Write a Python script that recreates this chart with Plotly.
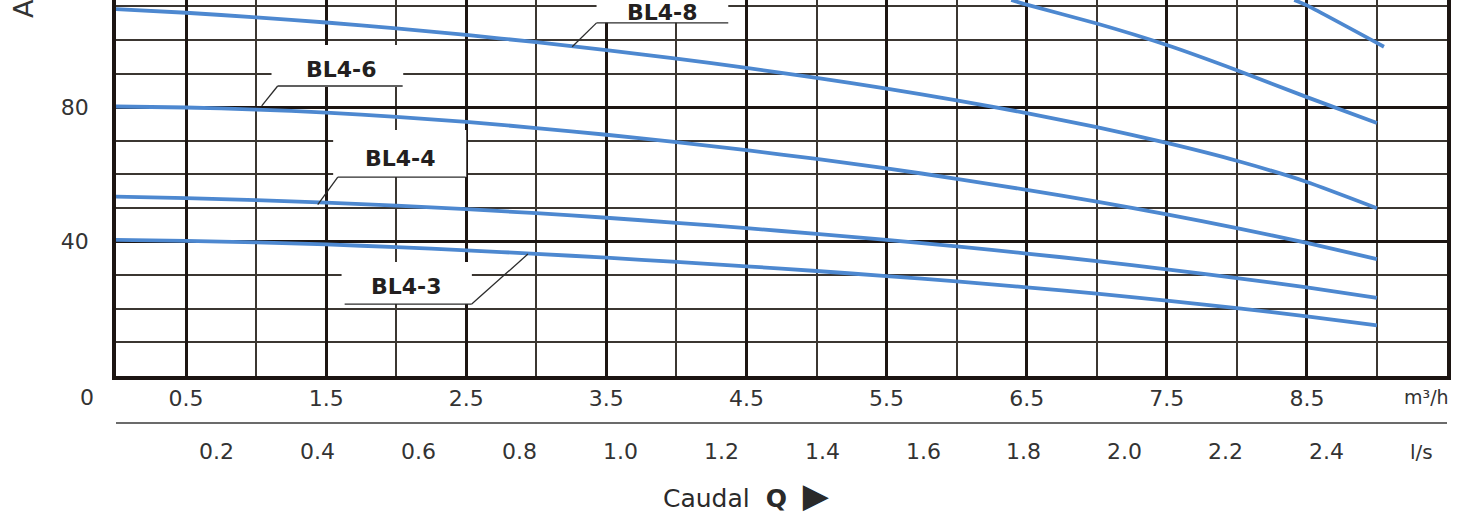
import plotly.graph_objects as go

# ---------------- data ----------------
q_m3h = [0.0, 0.5, 1.0, 1.5, 2.0, 2.5, 3.0, 3.5, 4.0, 4.5, 5.0, 5.5, 6.0, 6.5, 7.0, 7.5, 8.0, 8.5, 9.0]

h_bl4_3 = [40.5, 40.2, 39.75, 39.15, 38.35, 37.4, 36.35, 35.2, 33.95, 32.65, 31.25, 29.75, 28.15, 26.4, 24.5, 22.45, 20.2, 17.75, 15.05]
h_bl4_4 = [53.4, 52.95, 52.35, 51.6, 50.7, 49.65, 48.45, 47.1, 45.6, 44.0, 42.3, 40.5, 38.55, 36.45, 34.2, 31.75, 29.15, 26.35, 23.25]
h_bl4_6 = [80.2, 79.9, 79.3, 78.4, 77.1, 75.6, 73.8, 71.8, 69.6, 67.2, 64.6, 61.8, 58.7, 55.4, 51.9, 48.1, 44.0, 39.6, 34.8]
h_bl4_8 = [109.2, 108.1, 106.75, 105.2, 103.45, 101.5, 99.35, 97.0, 94.45, 91.7, 88.75, 85.55, 82.05, 78.25, 74.05, 69.35, 64.05, 57.75, 49.95]

# two upper curves whose labels lie outside the visible crop (only the visible part is read)
q_upper1 = [6.39, 6.5, 7.0, 7.5, 8.0, 8.5, 9.0]
h_upper1 = [111.9, 110.5, 104.9, 98.5, 91.0, 83.0, 75.3]
q_upper2 = [8.41, 8.5, 9.05]
h_upper2 = [111.9, 110.3, 98.0]

x_major_ticks = [0.5, 1.5, 2.5, 3.5, 4.5, 5.5, 6.5, 7.5, 8.5]
x_major_text = ["0.5", "1.5", "2.5", "3.5", "4.5", "5.5", "6.5", "7.5", "8.5"]
x_minor_ticks = [1, 2, 3, 4, 5, 6, 7, 8, 9]
y_major_ticks = [40, 80]
y_major_text = ["40", "80"]
y_minor_ticks = [10, 20, 30, 50, 60, 70, 90, 100, 110]
ls_ticks = [0.2, 0.4, 0.6, 0.8, 1.0, 1.2, 1.4, 1.6, 1.8, 2.0, 2.2, 2.4]
ls_text = ["0.2", "0.4", "0.6", "0.8", "1.0", "1.2", "1.4", "1.6", "1.8", "2.0", "2.2", "2.4"]
M3H_PER_LS = 3.6

# ---------------- style ----------------
CURVE = "#4d88d0"
THICK = "#1c1512"
THIN = "#3b3631"
TXT = "#333333"
FONT = "DejaVu Sans, Liberation Sans, Arial, sans-serif"
X_MAX = 9.5
Y_MAX = 111.9

fig = go.Figure()
series = [
    ("BL4-3", q_m3h, h_bl4_3),
    ("BL4-4", q_m3h, h_bl4_4),
    ("BL4-6", q_m3h, h_bl4_6),
    ("BL4-8", q_m3h, h_bl4_8),
    ("BL4-12", q_upper1, h_upper1),
    ("BL4-16", q_upper2, h_upper2),
]
for name, xs, ys in series:
    fig.add_trace(go.Scatter(x=xs, y=ys, name=name, mode="lines",
                             line=dict(color=CURVE, width=3.8, shape="spline", smoothing=0.5),
                             showlegend=False, hoverinfo="x+y+name"))

fig.update_xaxes(range=[0, X_MAX], tickvals=x_major_ticks, ticktext=x_major_text,
                 showgrid=True, gridcolor=THICK, gridwidth=3, zeroline=False,
                 showline=True, linecolor=THICK, linewidth=3.5, mirror=False,
                 ticks="", ticklabelstandoff=0,
                 tickfont=dict(family=FONT, size=22, color=TXT),
                 minor=dict(tickvals=x_minor_ticks, showgrid=True, gridcolor=THIN, gridwidth=1.6, ticks=""))
fig.update_yaxes(range=[0, Y_MAX], tickvals=y_major_ticks, ticktext=y_major_text,
                 showgrid=True, gridcolor=THICK, gridwidth=3, zeroline=False,
                 showline=True, linecolor=THICK, linewidth=3.5, mirror=True,
                 ticks="", ticklabelstandoff=19,
                 tickfont=dict(family=FONT, size=22, color=TXT),
                 minor=dict(tickvals=y_minor_ticks, showgrid=True, gridcolor=THIN, gridwidth=1.6, ticks=""))

shapes = []
annotations = []

# curve labels: white box, text, underline, leader line to the curve
labels = [
    # text, box(q0,q1,h0,h1), text(q,h), underline(q0,q1,h), leader end (q,h), leader start side
    ("BL4-6", (1.11, 2.05, 86.0, 98.5), (1.61, 91.1), (1.154, 2.046, 86.3), (1.04, 80.4), "left"),
    ("BL4-4", (1.55, 2.50, 59.2, 73.2), (2.03, 64.6), (1.583, 2.496, 59.2), (1.44, 51.0), "left"),
    ("BL4-3", (1.61, 2.54, 21.4, 33.9), (2.07, 26.5), (1.632, 2.539, 21.4), (2.94, 36.3), "right"),
    ("BL4-8", (3.43, 4.37, 105.1, 112.0), (3.90, 108.2), (3.43, 4.37, 105.1), (3.256, 98.0), "left"),
]
for text, box, tpos, ul, lead, side in labels:
    shapes.append(dict(type="rect", xref="x", yref="y", x0=box[0], x1=box[1], y0=box[2], y1=box[3],
                       fillcolor="white", line=dict(width=0), layer="above"))
    shapes.append(dict(type="line", xref="x", yref="y", x0=ul[0], x1=ul[1], y0=ul[2], y1=ul[2],
                       line=dict(color="#2b2b2b", width=1.3), layer="above"))
    sx = ul[0] if side == "left" else ul[1]
    shapes.append(dict(type="line", xref="x", yref="y", x0=sx, y0=ul[2], x1=lead[0], y1=lead[1],
                       line=dict(color="#2b2b2b", width=1.3), layer="above"))
    annotations.append(dict(x=tpos[0], y=tpos[1], xref="x", yref="y", text="<b>%s</b>" % text,
                            xanchor="center", yanchor="middle", showarrow=False,
                            font=dict(family=FONT, size=22, color="#231f20")))

# separator between the two flow scales
shapes.append(dict(type="line", xref="x", yref="paper", x0=0, x1=X_MAX, y0=-0.125, y1=-0.125,
                   line=dict(color="#3a3a3a", width=1.6)))

# l/s scale labels (positioned through the m3/h axis)
for v, t in zip(ls_ticks, ls_text):
    annotations.append(dict(x=v * M3H_PER_LS, y=-0.202, xref="x", yref="paper", text=t,
                            xanchor="center", yanchor="middle", showarrow=False,
                            font=dict(family=FONT, size=22, color=TXT)))

annotations += [
    dict(x=-0.0218, y=-0.056, xref="paper", yref="paper", text="0", showarrow=False,
         xanchor="center", yanchor="middle", font=dict(family=FONT, size=22, color=TXT)),
    dict(x=9.356, y=-0.056, xref="x", yref="paper", text="m³/h", showarrow=False,
         xanchor="center", yanchor="middle", font=dict(family=FONT, size=19, color=TXT)),
    dict(x=9.32, y=-0.202, xref="x", yref="paper", text="l/s", showarrow=False,
         xanchor="center", yanchor="middle", font=dict(family=FONT, size=20, color=TXT)),
    dict(x=0.4735, y=-0.316, xref="paper", yref="paper",
         text="Caudal  <b>Q</b>  <span style='font-size:34px'>▶</span>", showarrow=False,
         xanchor="center", yanchor="middle", font=dict(family=FONT, size=25, color="#2a2a2a")),
    dict(x=-0.070, y=0.978, xref="paper", yref="paper", text="A", textangle=-90, showarrow=False,
         xanchor="center", yanchor="middle", font=dict(family=FONT, size=27, color=TXT)),
]

fig.update_layout(width=1472, height=527, autosize=False,
                  margin=dict(l=116, r=25, t=0, b=151),
                  paper_bgcolor="white", plot_bgcolor="white",
                  shapes=shapes, annotations=annotations, showlegend=False)

fig.write_html("out.html", config={"displayModeBar": False},
               post_script="document.body.style.margin='0';")
